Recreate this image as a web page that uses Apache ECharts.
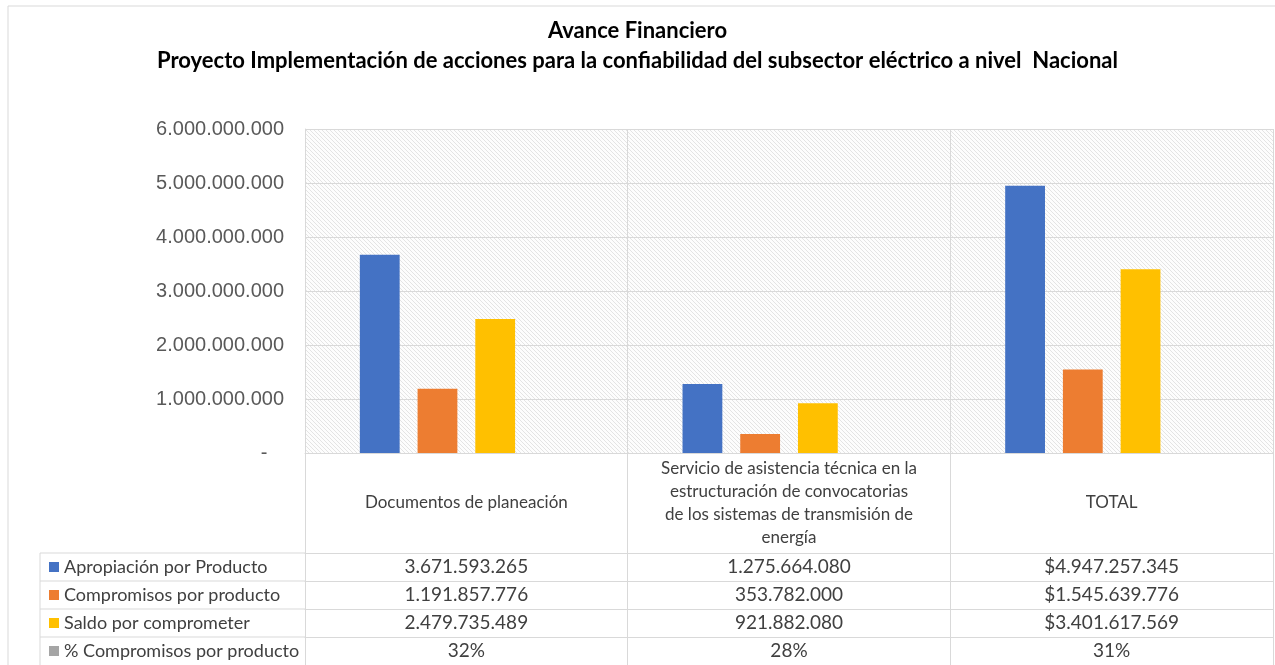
<!DOCTYPE html>
<html>
<head>
<meta charset="utf-8">
<script src="https://cdn.jsdelivr.net/npm/echarts@6/dist/echarts.min.js"></script>
<style>
	html, body { margin: 0; padding: 0; background: #fff; }
	#main { width: 1275px; height: 665px; }
</style>
</head>
<body>
<div id="main"></div>
<script>
var categories = ['Documentos de planeación',
	'Servicio de asistencia técnica en la estructuración de convocatorias de los sistemas de transmisión de energía',
	'TOTAL'];
var seriesNames = ['Apropiación por Producto', 'Compromisos por producto', 'Saldo por comprometer', '% Compromisos por producto'];
var apropiacion = [3671593265, 1275664080, 4947257345];
var compromisos = [1191857776, 353782000, 1545639776];
var saldo = [2479735489, 921882080, 3401617569];
var porcentaje = [0.32, 0.28, 0.31];
var colors = ['#4472c4', '#ed7d31', '#ffc000', '#a5a5a5'];

// miles con punto, como en la hoja
function fmt(v) {
	return Math.round(v).toString().replace(/\B(?=(\d{3})+(?!\d))/g, '.');
}
function money(arr) {
	return arr.map(function (v, i) {
		return (categories[i] === 'TOTAL' ? '$' : '') + fmt(v);
	});
}

var gridLeft = 305, gridTop = 129, gridBottom = 212, rowH = 28, headH = 100;
var lineColor = '#d9d9d9';
var textColor = '#404040';
var tableFont = 'Lato';
var catFontSize = 17;

// corte de lineas por ancho medido (como la celda de Excel)
var measureCtx = document.createElement('canvas').getContext('2d');
measureCtx.font = catFontSize + 'px ' + tableFont;
function wrap(text, maxW) {
	var words = text.split(' '), lines = [], cur = '';
	words.forEach(function (w) {
		var test = cur ? cur + ' ' + w : w;
		if (cur && measureCtx.measureText(test).width > maxW) {
			lines.push(cur);
			cur = w;
		} else {
			cur = test;
		}
	});
	if (cur) lines.push(cur);
	return lines.join('\n');
}

// trama diagonal del area de trazado
var pat = document.createElement('canvas');
pat.width = 4; pat.height = 4;
var ctx = pat.getContext('2d');
ctx.fillStyle = '#fdfdfd';
ctx.fillRect(0, 0, 4, 4);
ctx.fillStyle = '#e4e4e4';
for (var k = 0; k < 4; k++) ctx.fillRect(k, k, 1, 1);

var rows = [money(apropiacion), money(compromisos), money(saldo),
	porcentaje.map(function (p) { return Math.round(p * 100) + '%'; })];

var xAxes = [{
	type: 'category',
	data: categories,
	gridIndex: 0,
	position: 'bottom',
	axisLine: {show: true, lineStyle: {color: lineColor}},
	axisTick: {show: true, length: 212, lineStyle: {color: lineColor}},
	splitLine: {show: true, lineStyle: {color: lineColor}},
	axisLabel: {
		interval: 0, margin: 50, verticalAlign: 'middle', lineHeight: 23,
		color: textColor, fontFamily: tableFont, fontSize: catFontSize,
		formatter: function (v) { return wrap(v, 259); }
	}
}];
rows.forEach(function (r, i) {
	xAxes.push({
		type: 'category',
		data: r,
		gridIndex: 0,
		position: 'bottom',
		offset: headH + i * rowH,
		axisLine: {show: true, lineStyle: {color: lineColor}},
		axisTick: {show: false},
		axisLabel: {
			interval: 0, margin: 14, verticalAlign: 'middle',
			color: textColor, fontFamily: tableFont, fontSize: 19
		}
	});
});

// una leyenda por fila de la tabla
var legends = seriesNames.map(function (n, i) {
	return {
		orient: 'vertical',
		left: 44,
		top: 553 + i * rowH,
		itemWidth: 10,
		itemHeight: 10,
		icon: 'rect',
		selectedMode: false,
		data: [n],
		textStyle: {color: textColor, fontFamily: tableFont, fontSize: 18}
	};
});

var myChart = echarts.init(document.getElementById('main'));

var option = {
	color: colors,
	animation: false,
	title: {
		text: 'Avance Financiero\nProyecto Implementación de acciones para la confiabilidad del subsector eléctrico a nivel  Nacional',
		left: 'center',
		top: 11,
		textStyle: {
			fontFamily: tableFont, fontWeight: 'bold', fontSize: 22,
			color: '#000', lineHeight: 30
		}
	},
	legend: legends,
	grid: {
		left: gridLeft, right: 2, top: gridTop, bottom: gridBottom,
		show: true,
		borderWidth: 0,
		backgroundColor: {image: pat, repeat: 'repeat'}
	},
	xAxis: xAxes,
	yAxis: {
		type: 'value',
		min: 0,
		max: 6000000000,
		interval: 1000000000,
		axisLine: {show: true, lineStyle: {color: lineColor}},
		axisTick: {show: false},
		splitLine: {lineStyle: {color: lineColor}},
		axisLabel: {
			margin: 21,
			color: '#595959',
			fontFamily: 'Liberation Sans',
			fontSize: 20,
			formatter: function (v) { return v === 0 ? '-   ' : fmt(v); }
		}
	},
	graphic: [
		{type: 'rect', shape: {x: 8, y: 6, width: 1300, height: 700}, style: {fill: 'none', stroke: lineColor}, z: -1},
		{type: 'line', shape: {x1: 40, y1: 553, x2: gridLeft, y2: 553}, style: {stroke: lineColor}},
		{type: 'line', shape: {x1: 40, y1: 581, x2: gridLeft, y2: 581}, style: {stroke: lineColor}},
		{type: 'line', shape: {x1: 40, y1: 609, x2: gridLeft, y2: 609}, style: {stroke: lineColor}},
		{type: 'line', shape: {x1: 40, y1: 637, x2: gridLeft, y2: 637}, style: {stroke: lineColor}},
		{type: 'line', shape: {x1: 40, y1: 553, x2: 40, y2: 665}, style: {stroke: lineColor}}
	],
	series: [
		{name: seriesNames[0], type: 'bar', data: apropiacion, barGap: '45%', barCategoryGap: '34%'},
		{name: seriesNames[1], type: 'bar', data: compromisos},
		{name: seriesNames[2], type: 'bar', data: saldo},
		{name: seriesNames[3], type: 'bar', data: porcentaje}
	]
};

myChart.setOption(option);
</script>
</body>
</html>
